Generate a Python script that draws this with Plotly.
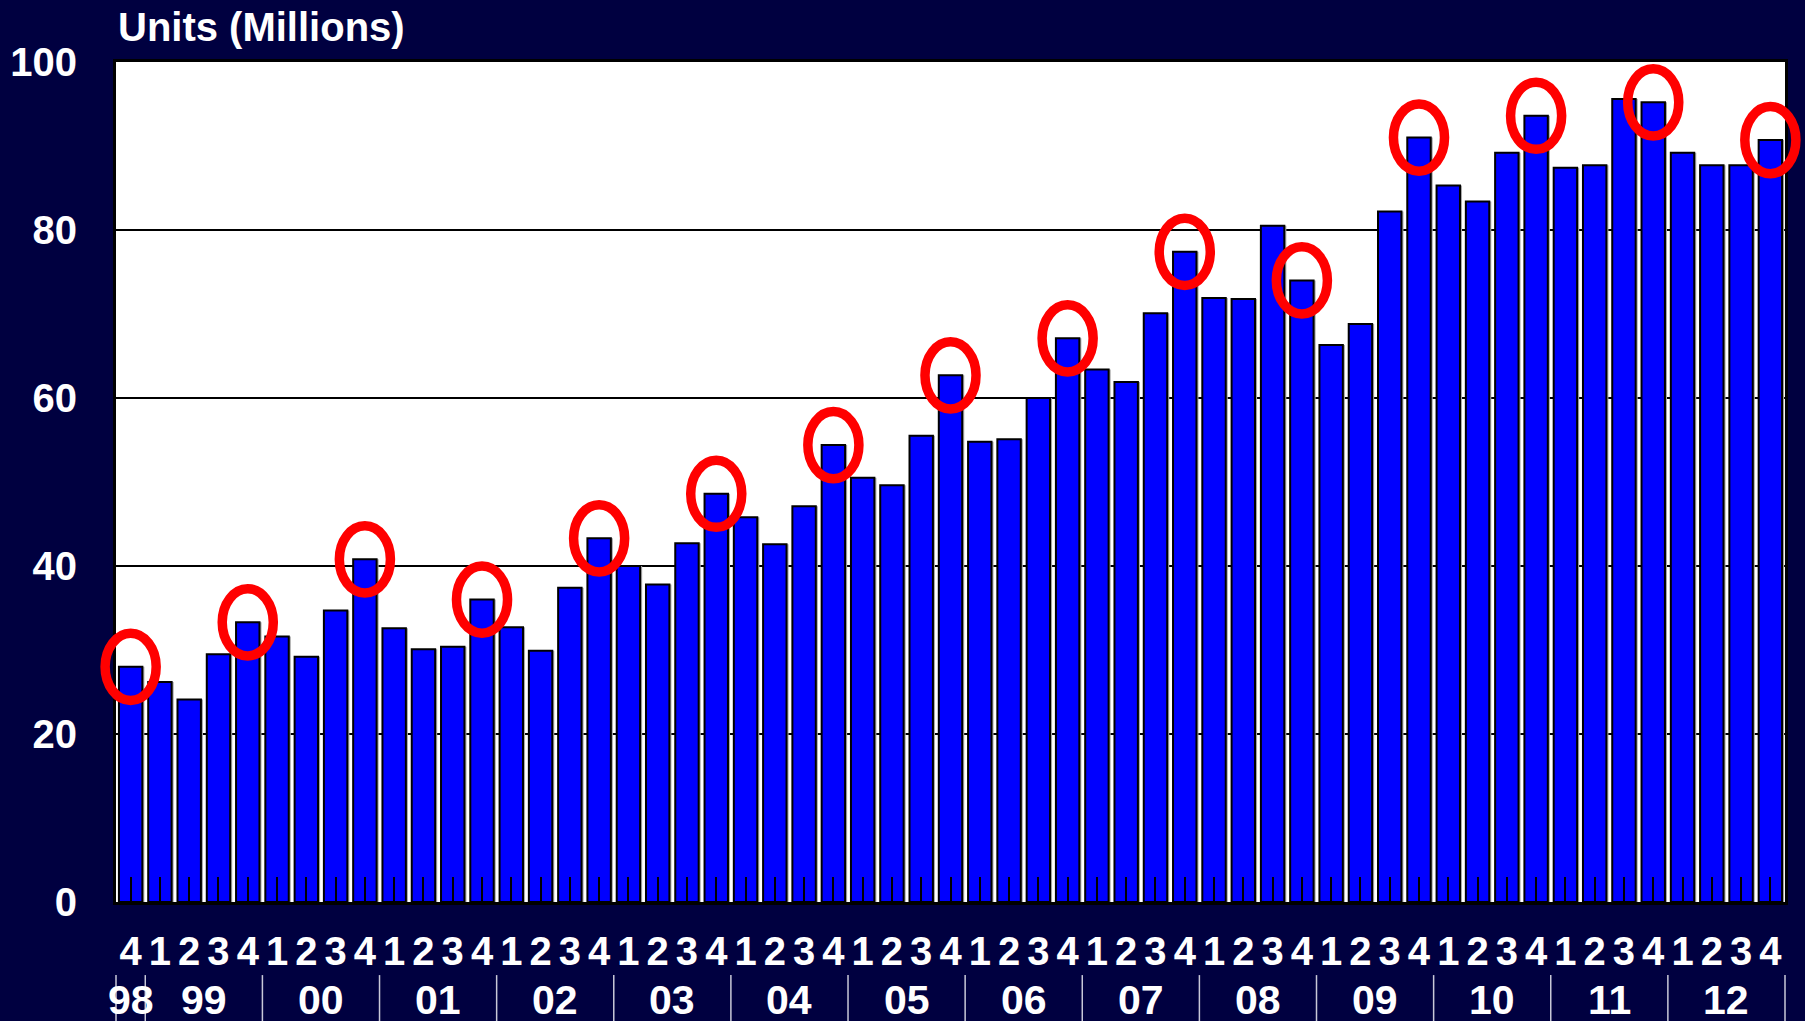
import plotly.graph_objects as go

# ---- data ----
quarters = ["4"] + ["1", "2", "3", "4"] * 14
years = ["98", "99", "00", "01", "02", "03", "04", "05", "06", "07",
         "08", "09", "10", "11", "12"]
quarters_per_year = [1] + [4] * 14
units = [28.0, 26.2, 24.1, 29.5, 33.3, 31.6, 29.2, 34.7, 40.8, 32.6,
         30.1, 30.4, 36.0, 32.7, 29.9, 37.4, 43.3, 40.0, 37.8, 42.7,
         48.6, 45.8, 42.6, 47.1, 54.4, 50.5, 49.6, 55.5, 62.7, 54.8,
         55.1, 60.0, 67.1, 63.4, 61.9, 70.1, 77.4, 71.9, 71.8, 80.5,
         74.0, 66.3, 68.8, 82.2, 91.0, 85.3, 83.4, 89.2, 93.6, 87.4,
         87.7, 95.6, 95.2, 89.2, 87.7, 87.7, 90.7]
y_ticks = [0, 20, 40, 60, 80, 100]

BG = "#000040"
FONT = "Arial, 'Liberation Sans', sans-serif"
n = len(units)
xs = list(range(n))

fig = go.Figure()
# subtle grey shadow to the right of each bar
fig.add_trace(go.Bar(
    x=xs, y=units, width=0.8, offset=-0.33,
    marker=dict(color="#A8A8A8", line=dict(width=0)),
    hoverinfo="skip",
))
fig.add_trace(go.Bar(
    x=xs, y=units, width=0.8, offset=-0.4,
    marker=dict(color="#0000FF", line=dict(color="black", width=2)),
    hoverinfo="y",
))

shapes = []
annotations = []

# red ellipses around Q4 bars
for i, (q, v) in enumerate(zip(quarters, units)):
    if q == "4":
        cx = (i + 0.5) / n
        shapes.append(dict(
            type="circle", xref="paper", yref="y",
            x0=cx - 0.0153, x1=cx + 0.0153, y0=v - 4.0, y1=v + 4.0,
            line=dict(color="#FF0000", width=9.5), layer="above",
        ))

# year labels and separators
start = 0
bounds = [0]
for yl, cnt in zip(years, quarters_per_year):
    center = start + (cnt - 1) / 2
    annotations.append(dict(
        x=center, xref="x", y=0, yref="paper", yshift=-98,
        text=yl, showarrow=False, xanchor="center", yanchor="middle",
        font=dict(family=FONT, size=41, color="white", weight="bold"),
    ))
    start += cnt
    bounds.append(start)
for b in bounds:
    shapes.append(dict(
        type="line", xref="paper", yref="paper",
        x0=b / n, x1=b / n, y0=-0.087, y1=-0.15,
        line=dict(color="#C8C8D8", width=1.5), layer="above",
    ))

# title text
annotations.append(dict(
    x=0, xref="paper", y=1, yref="paper", yshift=11,
    text="Units (Millions)", showarrow=False, xanchor="left", yanchor="bottom",
    font=dict(family=FONT, size=40, color="white", weight="bold"),
))

fig.update_layout(
    width=1805, height=1021,
    margin=dict(l=116, r=20, t=62, b=119, autoexpand=False),
    paper_bgcolor=BG, plot_bgcolor="white",
    barmode="overlay",
    showlegend=False,
    shapes=shapes,
    annotations=annotations,
    font=dict(family=FONT, color="white"),
)
fig.update_xaxes(
    range=[-0.5, n - 0.5], automargin=False,
    tickmode="array", tickvals=xs, ticktext=quarters,
    ticks="inside", ticklen=25, tickwidth=2, tickcolor="black",
    tickfont=dict(family=FONT, size=40, color="white", weight="bold"),
    ticklabelstandoff=12,
    showline=True, linecolor="black", linewidth=3, mirror=True,
    showgrid=False, zeroline=False, fixedrange=True,
)
fig.update_yaxes(
    range=[0, 100], automargin=False,
    tickmode="array", tickvals=y_ticks,
    ticks="", ticklabelstandoff=28,
    tickfont=dict(family=FONT, size=40, color="white", weight="bold"),
    showline=True, linecolor="black", linewidth=3, mirror=True,
    showgrid=True, gridcolor="black", gridwidth=2, zeroline=False,
    fixedrange=True,
)

fig.write_html(
    "out.html",
    config={"displayModeBar": False},
    post_script="document.body.style.margin='0';document.body.style.overflow='hidden';",
)
